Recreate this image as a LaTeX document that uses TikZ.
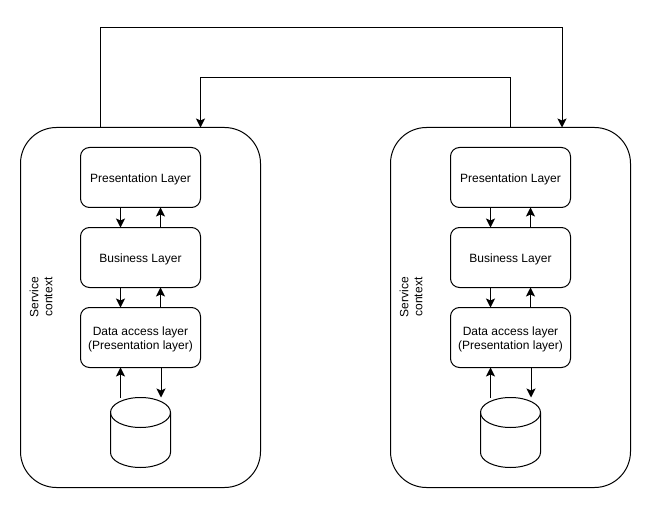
\documentclass[tikz,border=0pt]{standalone}
\usepackage{fontspec}
\setmainfont{Liberation Sans}
\usetikzlibrary{arrows.meta}
\newcommand\lineup{\rule{0pt}{12pt}}
\tikzset{
  ctx/.style={draw=black,line width=1pt,rounded corners=36pt,minimum width=240pt,minimum height=360pt,inner sep=0pt,outer sep=0pt,fill=white},
  layer/.style={draw=black,line width=1pt,rounded corners=9pt,minimum width=120pt,minimum height=60pt,inner sep=0pt,outer sep=0pt,fill=white,align=center,font=\fontsize{12}{14}\selectfont},
  store/.style={rectangle,minimum width=60pt,minimum height=70pt,inner sep=0pt,outer sep=0pt},
  shell/.style={draw=black,line width=1pt,fill=white},
  lbl/.style={rotate=90,align=center,inner sep=0pt,font=\fontsize{12}{14}\selectfont},
  arr/.style={draw=black,line width=1pt,-{Stealth[length=9pt,width=9pt,inset=2pt]}},
  wire/.style={arr}
}
\begin{document}
\begin{tikzpicture}[x=1pt,y=-1pt]
\useasboundingbox[fill=white] (0,0) rectangle (651,508);
\node[ctx] (c1) at (140.5,307.5) {};
\node[ctx] (c2) at (510.5,307.5) {};
\node[lbl] (s1) at (41,297) {Service\\context};
\node[lbl] (s2) at (411,297) {Service\\context};
% left stack
\node[layer] (p1) at (140.5,177.5) {\lineup Presentation Layer};
\node[layer] (b1) at (140.5,257.5) {\lineup Business Layer};
\node[layer] (d1) at (140.5,337.5) {\lineup Data access layer\\(Presentation layer)};
\node[store] (db1) at (140.5,432.5) {};
% right stack
\node[layer] (p2) at (510.5,177.5) {\lineup Presentation Layer};
\node[layer] (b2) at (510.5,257.5) {\lineup Business Layer};
\node[layer] (d2) at (510.5,337.5) {\lineup Data access layer\\(Presentation layer)};
\node[store] (db2) at (510.5,432.5) {};
% cylinders
\foreach \s in {db1,db2}{
  \draw[shell] (\s.north west) ++(0,15)
    arc[start angle=180,end angle=0,x radius=30pt,y radius=15pt]
    -- ++(0,40)
    arc[start angle=0,end angle=-180,x radius=30pt,y radius=15pt]
    -- cycle;
  \draw[shell,fill=none] (\s.north west) ++(0,15)
    arc[start angle=180,end angle=360,x radius=30pt,y radius=15pt];
}
% connectors
\foreach \u/\v in {p1/b1,b1/d1,p2/b2,b2/d2}{
  \draw[arr] ([xshift=-20pt]\u.south) -- ([xshift=-20pt]\v.north);
  \draw[arr] ([xshift=20pt]\v.north) -- ([xshift=20pt]\u.south);
}
\foreach \d/\s in {d1/db1,d2/db2}{
  \draw[arr] ([xshift=-20pt]\d.south |- \s.north) -- ([xshift=-20pt]\d.south);
  \draw[arr] ([xshift=20.5pt]\d.south) -- ([xshift=20.5pt]\d.south |- \s.north);
}
\coordinate (t1) at (100.5,27.5);
\coordinate (t2) at (562,27.5);
\coordinate (u1) at (510.5,77.5);
\coordinate (u2) at (200.5,77.5);
\draw[wire] (t1 |- c1.north) -- (t1) -- (t2) -- (t2 |- c2.north);
\draw[wire] (u1 |- c2.north) -- (u1) -- (u2) -- (u2 |- c1.north);
\end{tikzpicture}
\end{document}
